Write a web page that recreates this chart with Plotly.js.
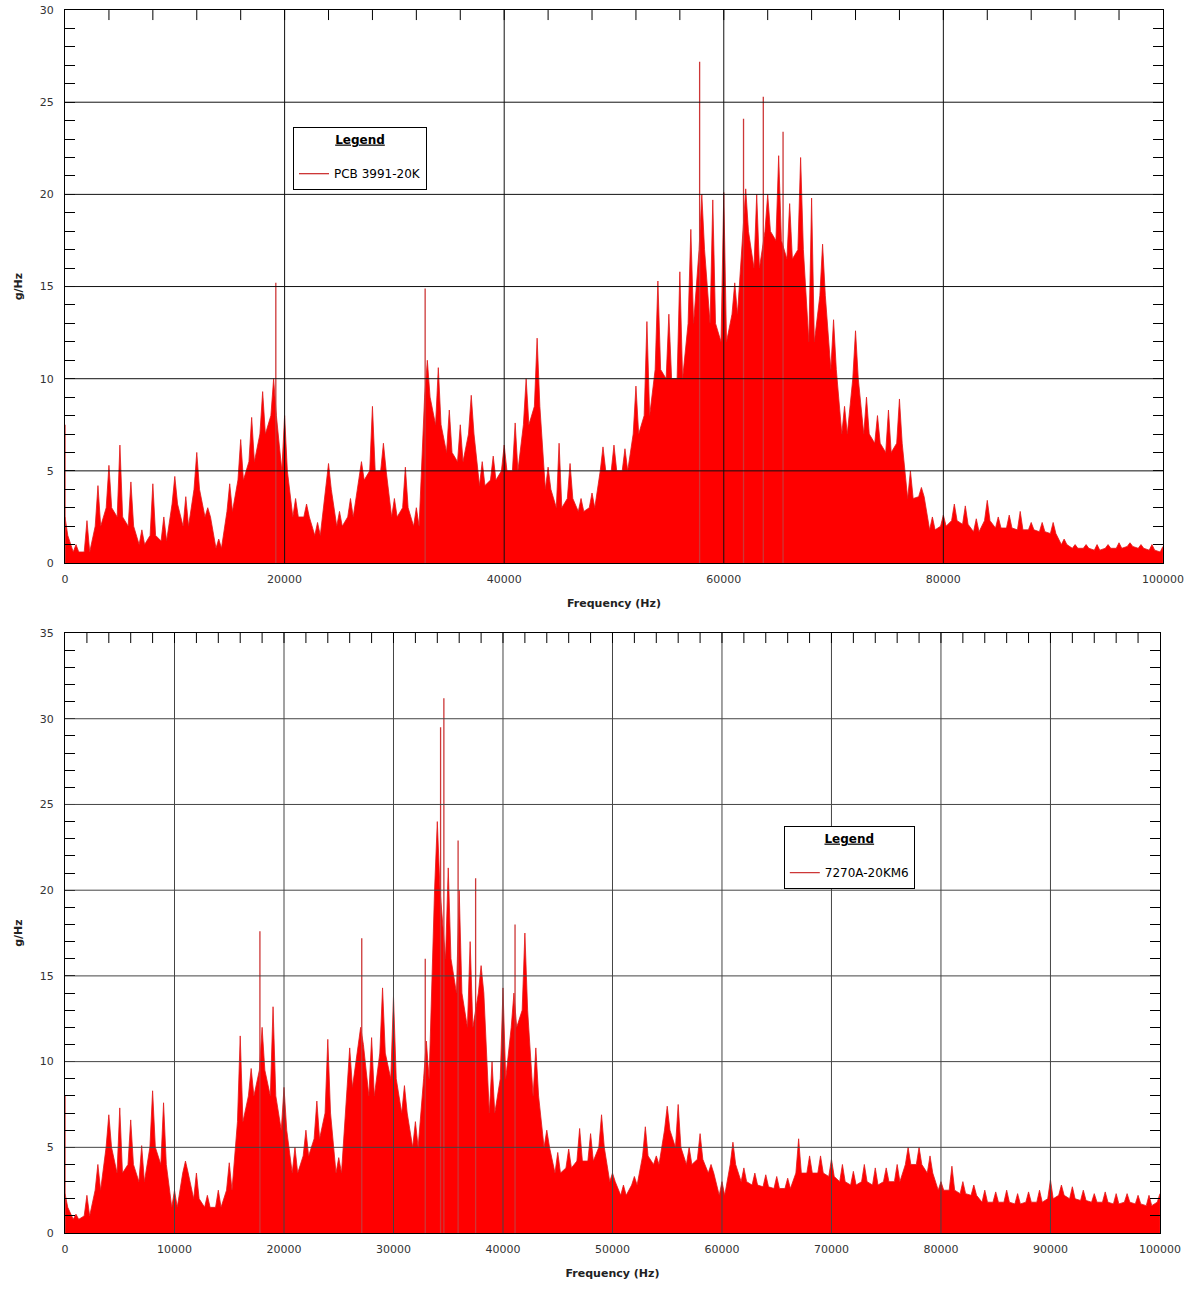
<!DOCTYPE html>
<html>
<head>
<meta charset="utf-8">
<script src="https://cdn.plot.ly/plotly-3.0.1.min.js"></script>
<style>
html, body { margin:0; padding:0; background:#fff; }
#spectra { width:1193px; height:1289px; }
</style>
</head>
<body>
<div id="spectra"></div>
<script>
// 1 kHz bins, 0 .. 100 kHz
var freqHz = [];
for (var k = 0; k <= 100; k++) freqHz.push(k * 1000);

// ---- top chart : PCB 3991-20K ----
// solid level of the spectrum per bin
var pcbBody = [1.5,0.6,0.6,2.0,3.0,2.5,2.0,1.0,1.5,1.2,
  3.2,2.0,4.0,2.5,0.8,2.8,4.5,5.5,7.0,8.0,
  5.0,2.5,2.5,1.5,4.0,2.0,2.5,4.5,5.0,5.0,
  2.5,3.0,2.0,9.0,7.5,6.0,5.5,7.0,4.2,4.5,
  5.0,5.0,7.5,8.5,4.0,3.0,3.5,2.8,3.0,5.0,
  5.0,5.0,7.0,8.0,10.5,10.0,10.0,13.0,17.0,13.0,
  12.0,13.5,18.0,16.0,18.0,17.5,16.5,17.0,12.0,14.5,
  10.5,7.0,10.0,7.0,6.5,6.0,6.5,3.5,3.6,1.8,
  2.0,2.3,2.1,1.7,2.3,1.9,1.9,1.8,1.8,1.7,
  1.6,1.0,0.8,0.8,0.7,0.8,0.8,0.9,0.8,0.7,0.6];
// highest line in each bin
var pcbPeak = [2.5,1.0,2.3,4.2,5.3,6.4,4.4,1.8,4.3,2.5,
  4.7,3.6,6.0,3.0,1.3,4.3,6.7,7.9,9.3,10.0,
  8.0,3.5,3.2,2.2,5.4,2.8,3.5,5.5,8.5,6.5,
  3.5,5.2,3.0,11.0,10.6,8.3,7.5,9.1,5.5,5.8,
  6.4,7.6,10.0,12.2,5.2,6.5,5.4,3.5,3.8,6.3,
  6.4,6.2,9.6,13.1,15.3,13.5,15.8,18.1,20.0,19.7,
  20.1,15.2,20.3,20.0,20.0,22.1,19.5,22.0,19.8,17.3,
  13.2,8.5,12.6,9.0,8.0,8.3,8.9,5.0,4.1,2.5,
  2.6,3.2,3.1,2.4,3.4,2.5,2.6,2.8,2.2,2.2,
  2.2,1.3,1.0,1.0,1.0,1.0,1.1,1.1,1.0,1.0,0.9];
// isolated tall lines
var pcbSpikeHz = [0, 19200, 32800, 57800, 61800, 63600, 65400];
var pcbSpikeVal = [7.5, 15.2, 14.9, 27.2, 24.1, 25.3, 23.4];

// ---- bottom chart : 7270A-20KM6 ----
var kmBody = [1.5,0.8,1.0,2.5,5.0,3.5,4.0,3.0,5.0,4.0,
  1.5,3.5,2.0,1.5,1.5,2.5,6.5,8.0,9.5,8.0,
  6.0,3.5,4.5,5.5,7.0,3.5,8.5,11.0,8.0,10.5,
  9.0,7.0,5.0,9.0,20.0,16.0,14.0,12.0,14.0,7.0,
  9.0,12.0,13.0,8.0,5.0,3.5,3.8,4.2,4.2,5.0,
  3.0,2.2,2.8,4.5,4.0,6.0,5.0,4.0,4.3,3.5,
  2.2,4.0,3.0,2.8,2.7,2.6,2.6,3.5,3.5,3.5,
  3.3,3.0,2.8,3.0,2.8,3.0,3.0,4.0,4.0,3.5,
  2.5,2.5,2.3,2.2,1.8,1.8,1.8,1.7,1.8,1.8,
  2.0,2.2,2.0,1.9,1.8,1.8,1.7,1.8,1.7,1.6,1.8];
var kmPeak = [2.3,1.1,2.2,4.0,6.9,7.3,6.6,5.1,8.3,7.6,
  2.5,4.2,3.5,2.2,2.5,4.1,11.5,9.6,12.0,13.2,
  8.5,5.0,6.0,7.7,11.3,4.4,10.8,12.0,11.4,14.3,
  13.8,8.6,6.5,11.2,24.0,21.3,20.0,17.0,15.6,10.0,
  14.3,14.0,17.5,10.8,6.0,4.7,4.9,6.1,5.8,6.9,
  3.5,2.8,3.3,6.2,4.5,7.4,7.5,5.0,5.8,4.0,
  3.0,5.3,3.8,3.5,3.4,3.3,3.2,5.5,4.5,4.5,
  4.3,4.0,3.6,4.0,3.8,3.8,4.0,5.0,5.0,4.5,
  3.0,3.9,3.0,2.8,2.5,2.4,2.5,2.3,2.4,2.5,
  3.1,2.8,2.7,2.5,2.3,2.4,2.3,2.3,2.2,2.2,2.3];
var kmSpikeHz = [0, 17800, 27100, 32900, 34300, 34600, 35900, 37500, 41100];
var kmSpikeVal = [8.0, 17.6, 17.2, 16.0, 29.5, 31.2, 22.9, 20.7, 18.0];

// axis ticks
var topXTicks = [0, 20000, 40000, 60000, 80000, 100000];
var botXTicks = [0, 10000, 20000, 30000, 40000, 50000, 60000, 70000, 80000, 90000, 100000];
var topYTicks = [0, 5, 10, 15, 20, 25, 30];
var botYTicks = [0, 5, 10, 15, 20, 25, 30, 35];

var red = '#ff0000';
var font = 'DejaVu Sans, Verdana, sans-serif';

// jagged outline: trough level either side of each bin, peak in the middle
function jagged(body, peak) {
    var x = [], y = [];
    for (var i = 0; i < freqHz.length; i++) {
        var f = freqHz[i];
        if (i > 0) { x.push(f - 250); y.push(body[i]); }
        x.push(f); y.push(peak[i]);
        if (i < freqHz.length - 1) { x.push(f + 250); y.push(body[i]); }
    }
    return {x: x, y: y};
}

// vertical lines from 0 up to each value
function needles(xs, ys) {
    var nx = [], ny = [];
    for (var i = 0; i < xs.length; i++) {
        nx.push(xs[i], xs[i], null);
        ny.push(0, ys[i], null);
    }
    return {x: nx, y: ny};
}

function spectrum(body, peak, spikeHz, spikeVal, xa, ya, name, legendId) {
    var j = jagged(body, peak);
    var n = needles(spikeHz, spikeVal);
    return [
        {type: 'scatter', mode: 'lines', x: j.x, y: j.y, xaxis: xa, yaxis: ya,
         fill: 'tozeroy', fillcolor: red, line: {color: 'rgb(225,25,25)', width: 0.8},
         showlegend: false, hoverinfo: 'skip'},
        {type: 'scatter', mode: 'lines', x: n.x, y: n.y, xaxis: xa, yaxis: ya,
         line: {color: 'rgb(205,55,55)', width: 1.3}, connectgaps: false,
         name: name, legend: legendId, showlegend: true}
    ];
}

var data = [].concat(
    spectrum(pcbBody, pcbPeak, pcbSpikeHz, pcbSpikeVal, 'x', 'y', 'PCB 3991-20K', 'legend'),
    spectrum(kmBody, kmPeak, kmSpikeHz, kmSpikeVal, 'x2', 'y2', '7270A-20KM6', 'legend2')
);

// grid drawn over the data, like the original
var shapes = [];
function grid(xt, yt, xa, ya, col) {
    xt.slice(1, -1).forEach(function(v) {
        shapes.push({type: 'line', xref: xa, yref: ya + ' domain', x0: v, x1: v, y0: 0, y1: 1,
                     layer: 'above', line: {color: col, width: 1}});
    });
    yt.slice(1, -1).forEach(function(v) {
        shapes.push({type: 'line', xref: xa + ' domain', yref: ya, x0: 0, x1: 1, y0: v, y1: v,
                     layer: 'above', line: {color: col, width: 1}});
    });
}
grid(topXTicks, topYTicks, 'x', 'y', '#111');
grid(botXTicks, botYTicks, 'x2', 'y2', '#444');

// small inward ticks along the top edge only
function topEdgeTicks(step, xa, ya, plotH) {
    for (var v = step; v < 100000; v += step) {
        shapes.push({type: 'line', xref: xa, yref: ya + ' domain', x0: v, x1: v,
                     y0: 1, y1: 1 - 10 / plotH, layer: 'above', line: {color: '#000', width: 1}});
    }
}
topEdgeTicks(4000, 'x', 'y', 553);
topEdgeTicks(2000, 'x2', 'y2', 600);

function xAxis(dom, ticks, anchor) {
    return {
        domain: dom, anchor: anchor, range: [0, 100000],
        tickmode: 'array', tickvals: ticks, ticktext: ticks.map(String),
        showgrid: false, zeroline: false, ticks: '',
        showline: true, mirror: true, linecolor: '#000', linewidth: 1,
        layer: 'above traces', ticklabelstandoff: 6,
        tickfont: {family: font, size: 11, color: '#333'},
        title: {text: '<b>Frequency (Hz)</b>', font: {family: font, size: 11, color: '#222'}, standoff: 14}
    };
}
function yAxis(dom, ticks, anchor) {
    return {
        domain: dom, anchor: anchor, range: [0, ticks[ticks.length - 1]],
        tickmode: 'array', tickvals: ticks, ticktext: ticks.map(String),
        showgrid: false, zeroline: false,
        ticks: 'inside', ticklen: 10, tickcolor: '#000',
        minor: {dtick: 1, ticks: 'inside', ticklen: 10, tickcolor: '#000', showgrid: false},
        showline: true, mirror: 'ticks', linecolor: '#000', linewidth: 1,
        layer: 'above traces', ticklabelstandoff: 8,
        tickfont: {family: font, size: 11, color: '#333'},
        title: {text: '<b>g/Hz</b>', font: {family: font, size: 11, color: '#222'}, standoff: 14}
    };
}

function legendBox(x, y) {
    return {
        x: x, y: y, xanchor: 'left', yanchor: 'top',
        bgcolor: '#fff', bordercolor: '#000', borderwidth: 1,
        itemwidth: 30, entrywidth: 116,
        font: {family: font, size: 12, color: '#000'},
        title: {text: '<b><u>Legend</u></b><br> ', side: 'top center', font: {family: font, size: 12, color: '#000'}}
    };
}

var layout = {
    width: 1193, height: 1289,
    margin: {l: 0, r: 0, t: 0, b: 0},
    paper_bgcolor: '#fff', plot_bgcolor: '#fff',
    showlegend: true,
    xaxis: xAxis([0.0545, 0.9748], topXTicks, 'y'),
    yaxis: yAxis([0.5632, 0.9922], topYTicks, 'x'),
    xaxis2: xAxis([0.0545, 0.9723], botXTicks, 'y2'),
    yaxis2: yAxis([0.0434, 0.5089], botYTicks, 'x2'),
    legend: legendBox(0.2456, 0.9015),
    legend2: legendBox(0.657, 0.3592),
    shapes: shapes
};

Plotly.newPlot('spectra', data, layout, {displayModeBar: false, staticPlot: true});
</script>
</body>
</html>
